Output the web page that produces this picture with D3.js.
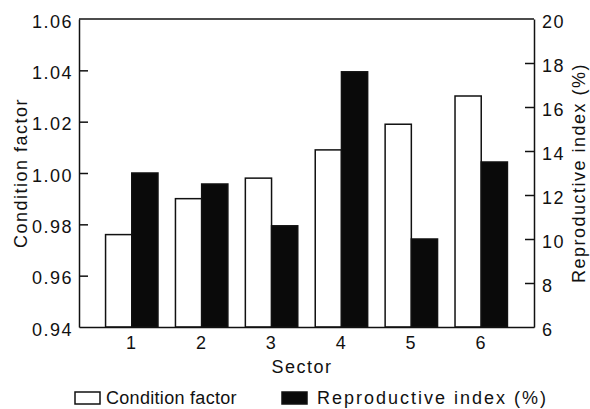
<!DOCTYPE html>
<html>
<head>
<meta charset="utf-8">
<script src="https://cdn.jsdelivr.net/npm/d3@7/dist/d3.min.js"></script>
<style>
  body { margin: 0; background: #fff; }
  svg text { font-family: "Liberation Sans", Arial, sans-serif; font-size: 18px; letter-spacing: 1.5px; fill: #111; }
</style>
</head>
<body>
<div id="chart"></div>
<script>
// Data
const sectors = ["1", "2", "3", "4", "5", "6"];
const conditionFactor = [0.976, 0.990, 0.998, 1.009, 1.019, 1.030];
const reproductiveIndex = [13.0, 12.5, 10.6, 17.6, 10.0, 13.5];
const seriesNames = ["Condition factor", "Reproductive index (%)"];
const leftTicks = [0.94, 0.96, 0.98, 1.00, 1.02, 1.04, 1.06];
const rightTicks = [6, 8, 10, 12, 14, 16, 18, 20];

// Layout
const W = 590, H = 409;
const margin = {top: 19, right: 56, bottom: 82, left: 79};
const width = W - margin.left - margin.right;
const height = H - margin.top - margin.bottom;

const svg = d3.select("#chart")
    .append("svg")
    .attr("width", W)
    .attr("height", H);

const g = svg.append("g")
    .attr("transform", `translate(${margin.left},${margin.top})`);

// Scales
const x0 = d3.scaleBand()
    .domain(sectors)
    .range([0, width])
    .paddingInner(0.25)
    .paddingOuter(0.38);

const x1 = d3.scaleBand()
    .domain(seriesNames)
    .range([0, x0.bandwidth()]);

const yLeft = d3.scaleLinear().domain([0.94, 1.06]).range([height, 0]);
const yRight = d3.scaleLinear().domain([6, 20]).range([height, 0]);

// Bars
const rows = sectors.map((s, i) => ({sector: s, cf: conditionFactor[i], ri: reproductiveIndex[i]}));

const groups = g.selectAll(".sector")
    .data(rows)
    .join("g")
    .attr("transform", d => `translate(${x0(d.sector)},0)`);

groups.append("rect")
    .attr("x", x1(seriesNames[0]))
    .attr("y", d => yLeft(d.cf))
    .attr("width", x1.bandwidth())
    .attr("height", d => height - yLeft(d.cf))
    .attr("fill", "#fff")
    .attr("stroke", "#111")
    .attr("stroke-width", 1.5);

groups.append("rect")
    .attr("x", x1(seriesNames[1]))
    .attr("y", d => yRight(d.ri))
    .attr("width", x1.bandwidth())
    .attr("height", d => height - yRight(d.ri))
    .attr("fill", "#0a0a0a")
    .attr("stroke", "#111")
    .attr("stroke-width", 1.5);

// Top frame line
g.append("line").attr("x1", 0).attr("x2", width).attr("y1", 0).attr("y2", 0)
    .attr("stroke", "#111").attr("stroke-width", 1.5);

// Axes
const leftAxis = g.append("g")
    .call(d3.axisLeft(yLeft).tickValues(leftTicks).tickFormat(d3.format(".2f"))
        .tickSizeInner(-9).tickSizeOuter(0).tickPadding(6));

const rightAxis = g.append("g")
    .attr("transform", `translate(${width},0)`)
    .call(d3.axisRight(yRight).tickValues(rightTicks)
        .tickSizeInner(-9).tickSizeOuter(0).tickPadding(8));

const bottomAxis = g.append("g")
    .attr("transform", `translate(0,${height})`)
    .call(d3.axisBottom(x0).tickSize(0).tickPadding(9));

[leftAxis, rightAxis, bottomAxis].forEach(a => {
    a.select(".domain").attr("stroke", "#111").attr("stroke-width", 1.5);
    a.selectAll(".tick line").attr("stroke", "#111").attr("stroke-width", 1.5);
    a.selectAll("text").attr("font-size", null).attr("font-family", null).attr("fill", null);
});
leftAxis.selectAll(".tick text").attr("dy", "0.45em");
rightAxis.selectAll(".tick text").attr("dy", "0.45em");
// no tick marks at the ends on the frame lines
leftAxis.selectAll(".tick").filter(d => d === 1.06 || d === 0.94).select("line").remove();
rightAxis.selectAll(".tick").filter(d => d === 20 || d === 6).select("line").remove();

// Axis titles
svg.append("text")
    .attr("transform", `translate(27,${margin.top + height / 2}) rotate(-90)`)
    .attr("text-anchor", "middle")
    .text("Condition factor");

svg.append("text")
    .attr("transform", `translate(585,${margin.top + height / 2}) rotate(-90)`)
    .attr("text-anchor", "middle")
    .text("Reproductive index (%)");

svg.append("text")
    .attr("x", 302)
    .attr("y", 373)
    .attr("text-anchor", "middle")
    .text("Sector");

// Legend
const legendX = [75, 282];
const legend = svg.selectAll(".legend")
    .data(seriesNames)
    .join("g")
    .attr("transform", (d, i) => `translate(${legendX[i]},392)`);

legend.append("rect")
    .attr("width", 25)
    .attr("height", 12)
    .attr("fill", (d, i) => i === 0 ? "#fff" : "#0a0a0a")
    .attr("stroke", "#111")
    .attr("stroke-width", 1.5);

legend.append("text")
    .attr("x", (d, i) => i === 0 ? 31 : 35)
    .attr("y", 12)
    .style("letter-spacing", (d, i) => i === 0 ? "0.3px" : "2px")
    .text(d => d);
</script>
</body>
</html>
